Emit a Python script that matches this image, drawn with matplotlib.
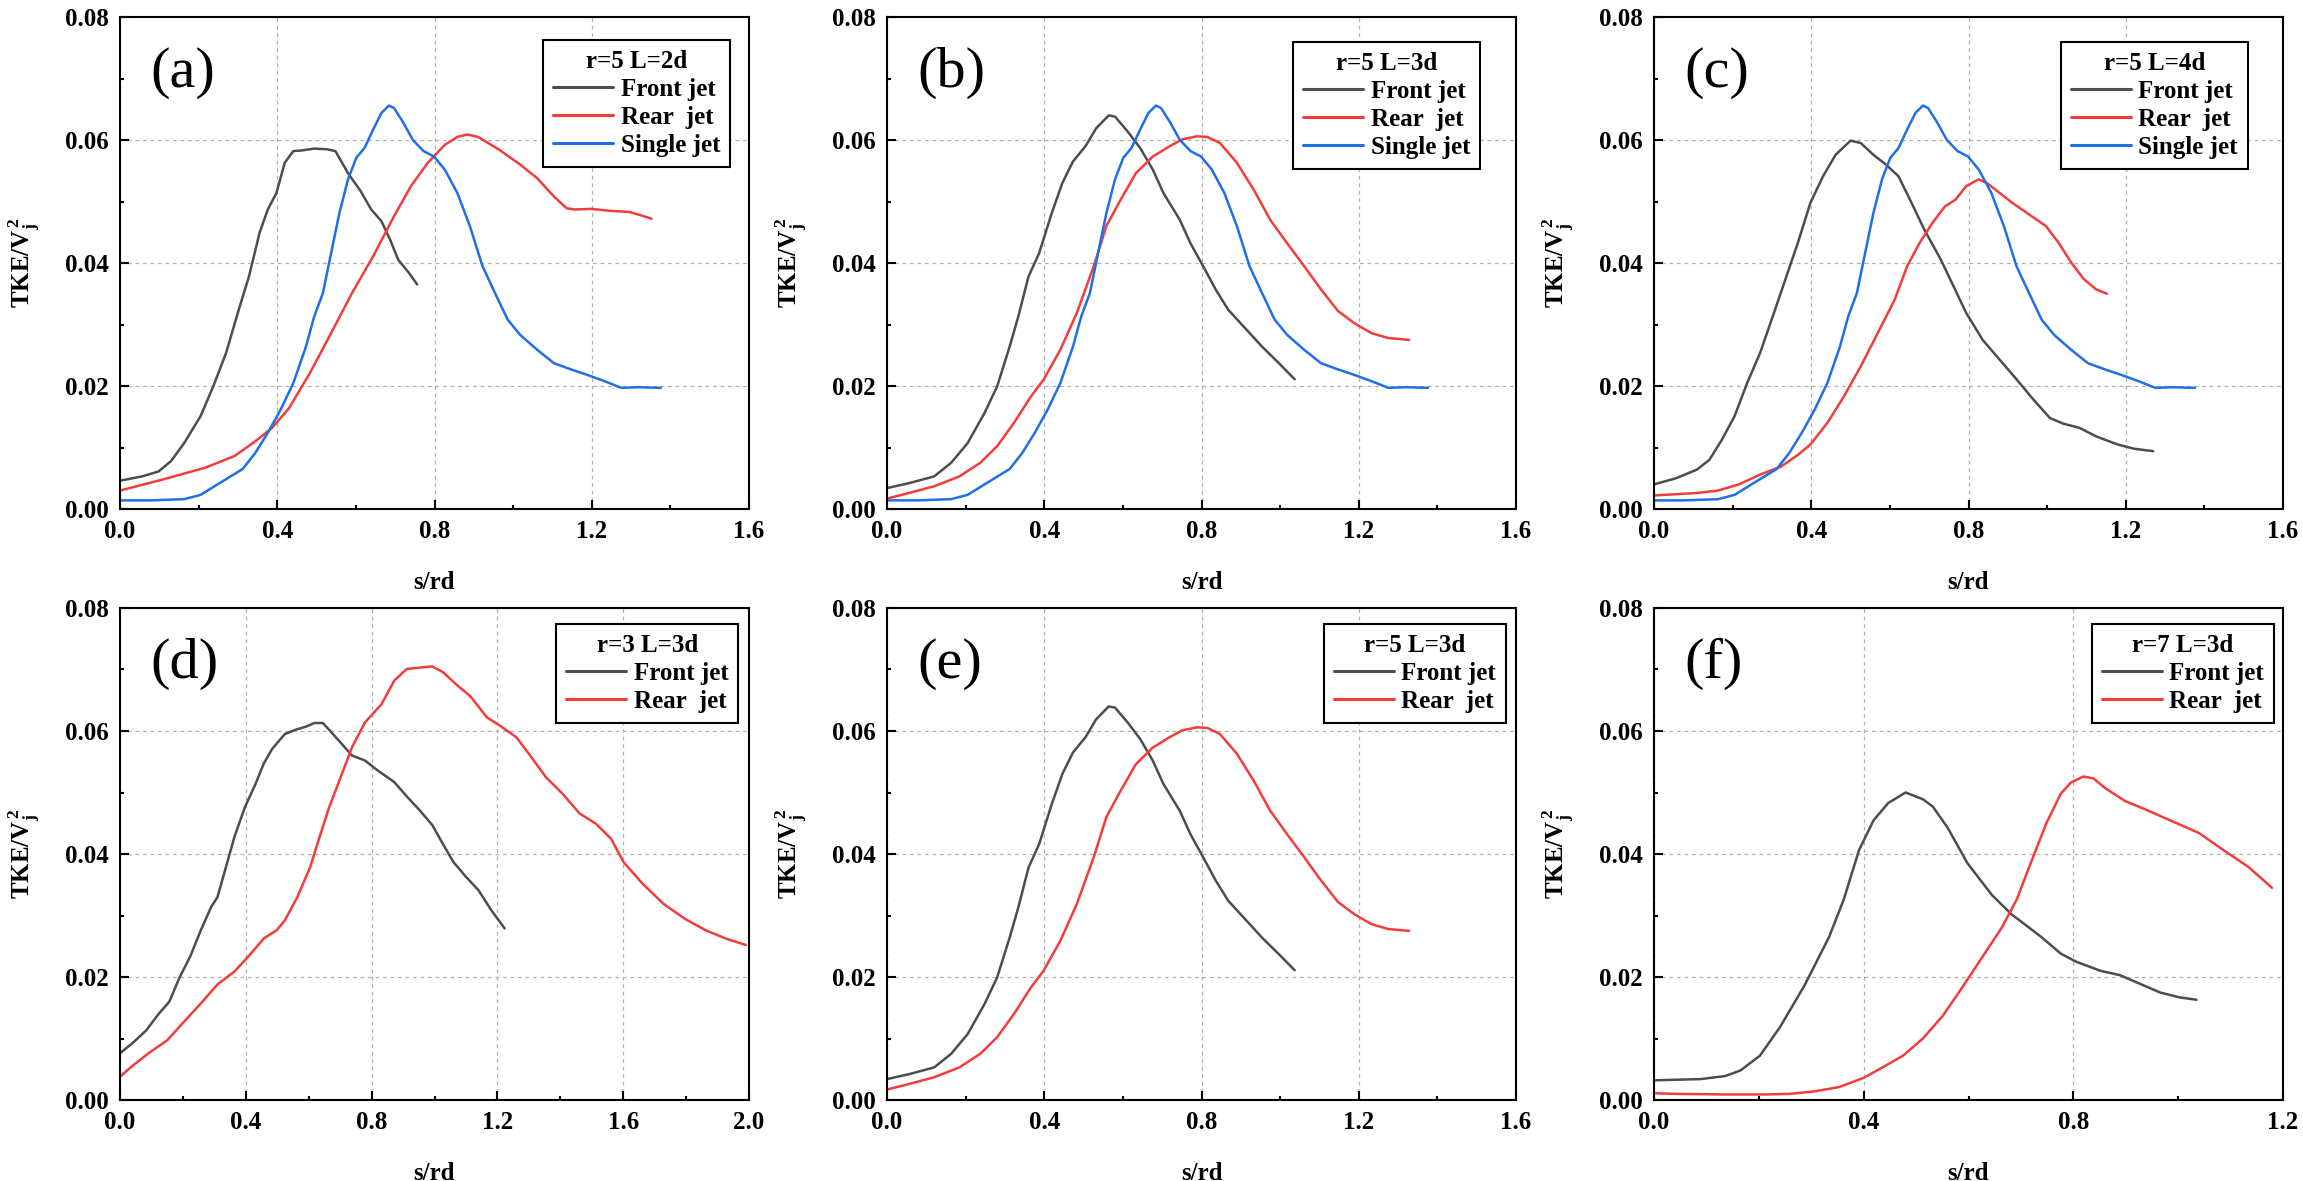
import matplotlib
matplotlib.use('Agg')
import matplotlib.pyplot as plt
from matplotlib.ticker import MultipleLocator, FormatStrFormatter

plt.rcParams['font.family'] = ['Liberation Serif', 'DejaVu Serif']
plt.rcParams['font.weight'] = 'bold'
plt.rcParams['mathtext.fontset'] = 'custom'
plt.rcParams['mathtext.rm'] = 'Liberation Serif:bold'
plt.rcParams['mathtext.bf'] = 'Liberation Serif:bold'
plt.rcParams['mathtext.it'] = 'Liberation Serif:bold'

# ---------------- data ----------------
# Single jet (same reference curve in a, b, c)
single_x = [0, 0.077, 0.163, 0.205, 0.248, 0.312, 0.344, 0.376, 0.409, 0.441, 0.473, 0.494,
            0.516, 0.537, 0.558, 0.580, 0.601, 0.622, 0.644, 0.665, 0.684, 0.697, 0.719, 0.745,
            0.772, 0.799, 0.826, 0.858, 0.890, 0.922, 0.954, 0.986, 1.018, 1.061, 1.104, 1.147,
            1.189, 1.232, 1.275, 1.318, 1.376]
single_y = [0.0014, 0.0014, 0.0016, 0.0023, 0.0040, 0.0065, 0.0091, 0.0124, 0.0162, 0.0205, 0.0264, 0.0313,
            0.0351, 0.0416, 0.0481, 0.0536, 0.0571, 0.0587, 0.0617, 0.0644, 0.0656, 0.0652, 0.0630, 0.0600,
            0.0582, 0.0573, 0.0552, 0.0514, 0.0460, 0.0395, 0.0351, 0.0308, 0.0283, 0.0259, 0.0237, 0.0227,
            0.0218, 0.0208, 0.0197, 0.0198, 0.0197]

# (a) r=5 L=2d
a_front_x = [0, 0.056, 0.098, 0.130, 0.163, 0.205, 0.237, 0.270, 0.302, 0.328, 0.355, 0.376, 0.398,
             0.419, 0.441, 0.462, 0.494, 0.526, 0.548, 0.580, 0.612, 0.639, 0.665, 0.687, 0.708, 0.735, 0.756]
a_front_y = [0.0046, 0.0053, 0.0061, 0.0078, 0.0107, 0.0151, 0.0199, 0.0254, 0.0324, 0.0378, 0.0449, 0.0487, 0.0514,
             0.0563, 0.0582, 0.0583, 0.0586, 0.0585, 0.0582, 0.0546, 0.0517, 0.0487, 0.0468, 0.0438, 0.0405, 0.0384, 0.0365]
a_rear_x = [0, 0.109, 0.216, 0.291, 0.344, 0.387, 0.430, 0.483, 0.537, 0.590, 0.644, 0.697, 0.740, 0.783,
            0.826, 0.858, 0.884, 0.911, 0.965, 1.018, 1.061, 1.104, 1.136, 1.157, 1.200, 1.243, 1.296, 1.328, 1.352]
a_rear_y = [0.0030, 0.0048, 0.0067, 0.0086, 0.0110, 0.0132, 0.0164, 0.0221, 0.0286, 0.0351, 0.0411, 0.0476, 0.0525, 0.0563,
            0.0592, 0.0605, 0.0609, 0.0605, 0.0584, 0.0560, 0.0538, 0.0508, 0.0489, 0.0487, 0.0488, 0.0485, 0.0483, 0.0477, 0.0472]

# (b) and (e) r=5 L=3d
r5L3_front_x = [0, 0.056, 0.120, 0.163, 0.205, 0.248, 0.280, 0.312, 0.334, 0.360, 0.387, 0.419, 0.446,
                0.473, 0.505, 0.532, 0.564, 0.580, 0.612, 0.644, 0.676, 0.703, 0.745, 0.772, 0.804, 0.836,
                0.868, 0.911, 0.954, 0.997, 1.037]
r5L3_front_y = [0.0034, 0.0042, 0.0053, 0.0075, 0.0107, 0.0156, 0.0199, 0.0264, 0.0313, 0.0378, 0.0416, 0.0481, 0.0530,
                0.0565, 0.0590, 0.0619, 0.0640, 0.0638, 0.0614, 0.0587, 0.0552, 0.0514, 0.0470, 0.0432, 0.0395, 0.0357,
                0.0324, 0.0294, 0.0264, 0.0237, 0.0211]
r5L3_rear_x = [0, 0.056, 0.120, 0.184, 0.237, 0.280, 0.323, 0.366, 0.398, 0.441, 0.483, 0.526, 0.558,
               0.590, 0.633, 0.676, 0.719, 0.751, 0.788, 0.815, 0.847, 0.890, 0.933, 0.975, 1.018, 1.061,
               1.104, 1.147, 1.189, 1.232, 1.275, 1.328]
r5L3_rear_y = [0.0017, 0.0026, 0.0037, 0.0053, 0.0075, 0.0102, 0.0140, 0.0183, 0.0210, 0.0259, 0.0319, 0.0395, 0.0460,
               0.0498, 0.0546, 0.0573, 0.0590, 0.0601, 0.0606, 0.0605, 0.0595, 0.0563, 0.0519, 0.0470, 0.0432, 0.0395,
               0.0357, 0.0322, 0.0302, 0.0286, 0.0278, 0.0275]

# (c) r=5 L=4d
c_front_x = [0, 0.056, 0.109, 0.141, 0.173, 0.205, 0.237, 0.270, 0.302, 0.334, 0.366, 0.398, 0.430,
             0.462, 0.500, 0.526, 0.558, 0.590, 0.622, 0.655, 0.687, 0.730, 0.762, 0.794, 0.836, 0.879,
             0.922, 0.965, 1.007, 1.040, 1.082, 1.125, 1.179, 1.221, 1.270]
c_front_y = [0.0040, 0.0050, 0.0064, 0.0080, 0.0113, 0.0151, 0.0205, 0.0254, 0.0313, 0.0373, 0.0433, 0.0498, 0.0541,
             0.0576, 0.0599, 0.0595, 0.0576, 0.0560, 0.0541, 0.0498, 0.0455, 0.0405, 0.0362, 0.0319, 0.0275, 0.0243,
             0.0211, 0.0178, 0.0148, 0.0139, 0.0132, 0.0118, 0.0105, 0.0098, 0.0094]
c_rear_x = [0, 0.109, 0.163, 0.216, 0.270, 0.323, 0.366, 0.398, 0.441, 0.483, 0.526, 0.569, 0.612,
            0.644, 0.676, 0.708, 0.740, 0.767, 0.794, 0.826, 0.847, 0.879, 0.911, 0.954, 0.997, 1.029,
            1.061, 1.093, 1.125, 1.152]
c_rear_y = [0.0022, 0.0026, 0.0030, 0.0040, 0.0056, 0.0069, 0.0088, 0.0105, 0.0140, 0.0183, 0.0232, 0.0286, 0.0340,
            0.0395, 0.0433, 0.0465, 0.0492, 0.0503, 0.0525, 0.0536, 0.0530, 0.0514, 0.0498, 0.0479, 0.0460, 0.0433,
            0.0401, 0.0374, 0.0357, 0.0350]

# (d) r=3 L=3d
d_front_x = [0, 0.043, 0.083, 0.123, 0.157, 0.190, 0.223, 0.257, 0.290, 0.310, 0.337, 0.364, 0.397,
             0.431, 0.457, 0.484, 0.524, 0.558, 0.591, 0.618, 0.645, 0.672, 0.705, 0.738, 0.779, 0.819,
             0.872, 0.913, 0.953, 0.993, 1.026, 1.060, 1.100, 1.140, 1.180, 1.223]
d_front_y = [0.0076, 0.0094, 0.0113, 0.0140, 0.0160, 0.0200, 0.0233, 0.0276, 0.0314, 0.0330, 0.0379, 0.0428, 0.0476,
             0.0514, 0.0547, 0.0571, 0.0595, 0.0602, 0.0607, 0.0613, 0.0613, 0.0598, 0.0579, 0.0560, 0.0552, 0.0536,
             0.0517, 0.0493, 0.0471, 0.0447, 0.0417, 0.0387, 0.0363, 0.0341, 0.0309, 0.0279]
d_rear_x = [0, 0.043, 0.096, 0.150, 0.203, 0.257, 0.310, 0.364, 0.404, 0.458, 0.498, 0.524, 0.564,
            0.605, 0.631, 0.665, 0.698, 0.738, 0.779, 0.832, 0.872, 0.912, 0.953, 0.993, 1.026, 1.073,
            1.113, 1.167, 1.207, 1.260, 1.300, 1.354, 1.407, 1.461, 1.514, 1.561, 1.601, 1.661, 1.728,
            1.795, 1.862, 1.929, 1.990]
d_rear_y = [0.0038, 0.0057, 0.0078, 0.0097, 0.0127, 0.0157, 0.0188, 0.0209, 0.0231, 0.0263, 0.0276, 0.0292, 0.0330,
            0.0379, 0.0422, 0.0476, 0.0520, 0.0574, 0.0614, 0.0644, 0.0682, 0.0701, 0.0703, 0.0705, 0.0696, 0.0674,
            0.0657, 0.0622, 0.0609, 0.0590, 0.0563, 0.0525, 0.0498, 0.0466, 0.0449, 0.0425, 0.0387, 0.0352, 0.0319,
            0.0295, 0.0276, 0.0262, 0.0252]

# (f) r=7 L=3d
f_front_x = [0, 0.089, 0.136, 0.165, 0.202, 0.240, 0.287, 0.334, 0.362, 0.391, 0.419, 0.447, 0.480,
             0.513, 0.532, 0.560, 0.598, 0.645, 0.682, 0.739, 0.776, 0.805, 0.852, 0.889, 0.927, 0.965,
             1.002, 1.035]
f_front_y = [0.0032, 0.0034, 0.0039, 0.0048, 0.0072, 0.0118, 0.0186, 0.0265, 0.0326, 0.0406, 0.0455, 0.0483, 0.0500,
             0.0489, 0.0477, 0.0443, 0.0385, 0.0333, 0.0302, 0.0265, 0.0238, 0.0225, 0.0210, 0.0203, 0.0189, 0.0175,
             0.0167, 0.0163]
f_rear_x = [0, 0.042, 0.136, 0.212, 0.259, 0.306, 0.353, 0.400, 0.438, 0.475, 0.513, 0.551, 0.588,
            0.626, 0.664, 0.692, 0.720, 0.748, 0.776, 0.795, 0.819, 0.838, 0.861, 0.899, 0.936, 0.984,
            1.040, 1.087, 1.134, 1.179]
f_rear_y = [0.0011, 0.0010, 0.0009, 0.0009, 0.0010, 0.0014, 0.0021, 0.0036, 0.0054, 0.0072, 0.0100, 0.0137, 0.0183,
            0.0232, 0.0281, 0.0326, 0.0388, 0.0449, 0.0498, 0.0516, 0.0526, 0.0523, 0.0507, 0.0486, 0.0473, 0.0455,
            0.0434, 0.0406, 0.0379, 0.0345]

panel_labels = ['(a)', '(b)', '(c)', '(d)', '(e)', '(f)']
legend_titles = ['r=5 L=2d', 'r=5 L=3d', 'r=5 L=4d', 'r=3 L=3d', 'r=5 L=3d', 'r=7 L=3d']
series_names = ['Front jet', 'Rear  jet', 'Single jet']
x_limits = [1.6, 1.6, 1.6, 2.0, 1.6, 1.2]
x_label = 's/rd'
y_label = r'TKE/V$_{\mathrm{j}}^{\,\mathrm{2}}$'

panel_series = [
    [(a_front_x, a_front_y), (a_rear_x, a_rear_y), (single_x, single_y)],
    [(r5L3_front_x, r5L3_front_y), (r5L3_rear_x, r5L3_rear_y), (single_x, single_y)],
    [(c_front_x, c_front_y), (c_rear_x, c_rear_y), (single_x, single_y)],
    [(d_front_x, d_front_y), (d_rear_x, d_rear_y)],
    [(r5L3_front_x, r5L3_front_y), (r5L3_rear_x, r5L3_rear_y)],
    [(f_front_x, f_front_y), (f_rear_x, f_rear_y)],
]

colors = ['#4d4d4d', '#f43c3c', '#1f6fe5']

# ---------------- layout ----------------
W, H = 2303, 1181
fig = plt.figure(figsize=(W / 100, H / 100), dpi=100)
col_left = [120, 887, 1654]
ax_w = 629
row_top = [17, 608]
ax_h = 492
legend_anchor = [(0.970, 0.953), (0.943, 0.949), (0.944, 0.949),
                 (0.983, 0.968), (0.984, 0.968), (0.986, 0.968)]

for i in range(6):
    r, c = divmod(i, 3)
    left = col_left[c] / W
    bottom = 1 - (row_top[r] + ax_h) / H
    ax = fig.add_axes([left, bottom, ax_w / W, ax_h / H])
    for j, (xs, ys) in enumerate(panel_series[i]):
        ax.plot(xs, ys, color=colors[j], lw=1.8, label=series_names[j],
                solid_capstyle='round', solid_joinstyle='round')
    ax.set_xlim(0, x_limits[i])
    ax.set_ylim(0, 0.08)
    ax.xaxis.set_major_locator(MultipleLocator(0.4))
    ax.xaxis.set_minor_locator(MultipleLocator(0.2))
    ax.yaxis.set_major_locator(MultipleLocator(0.02))
    ax.yaxis.set_minor_locator(MultipleLocator(0.01))
    ax.xaxis.set_major_formatter(FormatStrFormatter('%.1f'))
    ax.yaxis.set_major_formatter(FormatStrFormatter('%.2f'))
    ax.tick_params(which='major', direction='in', length=6.5, width=1.5, pad=8,
                   labelsize=18, top=False, right=False)
    ax.tick_params(which='minor', direction='in', length=3.2, width=1.5, top=False, right=False)
    for lab in ax.get_xticklabels() + ax.get_yticklabels():
        lab.set_fontweight('bold')
    for sp in ax.spines.values():
        sp.set_linewidth(1.5)
    ax.set_axisbelow(True)
    ax.grid(True, which='major', linestyle=(0, (3, 3)), color='#b0b0b0', linewidth=0.9)
    ax.set_xlabel(x_label, fontsize=18, fontweight='bold', labelpad=20)
    ax.set_ylabel(y_label, fontsize=18, fontweight='bold', labelpad=16)
    ax.text(0.048, 0.886, panel_labels[i], transform=ax.transAxes, fontsize=42,
            fontweight='normal', ha='left', va='center')
    leg = ax.legend(loc='upper right', bbox_to_anchor=legend_anchor[i], borderaxespad=0,
                    title=legend_titles[i], title_fontproperties={'weight': 'bold', 'size': 18},
                    prop={'weight': 'bold', 'size': 18}, handlelength=2.4, handletextpad=0.3,
                    labelspacing=0.2, borderpad=0.4, fancybox=False, framealpha=1, edgecolor='black')
    leg.get_frame().set_linewidth(1.5)
    for lh in leg.get_lines():
        lh.set_linewidth(2.2)

fig.savefig('out.png', dpi=100)
